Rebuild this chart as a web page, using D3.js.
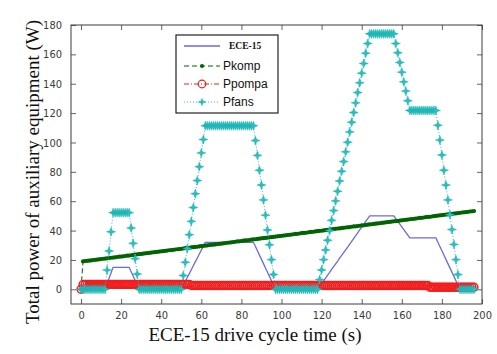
<!DOCTYPE html>
<html>
<head>
<meta charset="utf-8">
<script src="https://cdn.jsdelivr.net/npm/d3@7"></script>
<style>
  body { margin: 0; background: #fff; }
  svg { display: block; }
</style>
</head>
<body>
<svg id="chart" width="497" height="354"></svg>
<script>
// One sample per second, t = 0 … 196 s.
// ECE-15 vehicle speed (km/h), drawn on the same axis as the powers.
const speedECE = [
  0,0,0,0,0,0,0,0,0,0,0,0,0,
  3.75,7.5,11.25,15,
  15,15,15,15,15,15,15,15,
  12,9,6,3,0,
  0,0,0,0,0,0,0,0,0,0,0,0,0,0,0,0,0,0,0,0,0,
  2.7,5.3,8,10.7,13.3,16,18.7,21.3,24,26.7,29.3,32,
  32,32,32,32,32,32,32,32,32,32,32,32,32,32,32,32,32,32,32,32,32,32,32,32,
  29.1,26.2,23.3,20.4,17.5,14.5,11.6,8.7,5.8,2.9,0,
  0,0,0,0,0,0,0,0,0,0,0,0,0,0,0,0,0,0,0,0,0,
  1.9,3.8,5.8,7.7,9.6,11.5,13.5,15.4,17.3,19.2,21.2,23.1,25,26.9,28.8,30.8,32.7,34.6,36.5,38.5,40.4,42.3,44.2,46.2,48.1,50,
  50,50,50,50,50,50,50,50,50,50,50,50,
  48.1,46.3,44.4,42.5,40.6,38.8,36.9,35,
  35,35,35,35,35,35,35,35,35,35,35,35,35,
  32.1,29.2,26.3,23.3,20.4,17.5,14.6,11.7,8.8,5.8,2.9,0,
  0,0,0,0,0,0,0
];

// Compressor power (W)
const pKomp = [
  0,
  19.0,19.2,19.4,19.5,19.7,19.9,20.1,20.2,20.4,20.6,20.8,20.9,21.1,21.3,21.5,21.6,21.8,22.0,22.2,22.3,
  22.5,22.7,22.9,23.0,23.2,23.4,23.6,23.8,23.9,24.1,24.3,24.5,24.6,24.8,25.0,25.2,25.3,25.5,25.7,25.9,
  26.0,26.2,26.4,26.6,26.7,26.9,27.1,27.3,27.4,27.6,27.8,28.0,28.2,28.3,28.5,28.7,28.9,29.0,29.2,29.4,
  29.6,29.7,29.9,30.1,30.3,30.4,30.6,30.8,31.0,31.1,31.3,31.5,31.7,31.8,32.0,32.2,32.4,32.6,32.7,32.9,
  33.1,33.3,33.4,33.6,33.8,34.0,34.1,34.3,34.5,34.7,34.8,35.0,35.2,35.4,35.5,35.7,35.9,36.1,36.2,36.4,
  36.6,36.8,37.0,37.1,37.3,37.5,37.7,37.8,38.0,38.2,38.4,38.5,38.7,38.9,39.1,39.2,39.4,39.6,39.8,39.9,
  40.1,40.3,40.5,40.6,40.8,41.0,41.2,41.4,41.5,41.7,41.9,42.1,42.2,42.4,42.6,42.8,42.9,43.1,43.3,43.5,
  43.6,43.8,44.0,44.2,44.3,44.5,44.7,44.9,45.0,45.2,45.4,45.6,45.8,45.9,46.1,46.3,46.5,46.6,46.8,47.0,
  47.2,47.3,47.5,47.7,47.9,48.0,48.2,48.4,48.6,48.7,48.9,49.1,49.3,49.4,49.6,49.8,50.0,50.2,50.3,50.5,
  50.7,50.9,51.0,51.2,51.4,51.6,51.7,51.9,52.1,52.3,52.4,52.6,52.8,53.0,53.1,53.3
];

// Pump power (W)
const pPompa = [
  0,
  3.3,3.3,3.3,3.3,3.3,3.3,3.3,3.3,3.3,3.3,3.3,3.3,3.3,3.3,3.3,3.3,3.3,3.3,3.3,3.3,
  3.3,3.3,3.3,3.3,3.3,3.3,3.3,3.3,3.3,3.3,3.3,3.3,3.3,3.3,3.3,3.3,3.3,3.3,3.3,3.3,
  3.3,3.3,3.3,3.3,3.3,3.3,3.3,3.3,3.3,3.3,3.3,3.3,3.3,3.3,
  2.6,2.6,2.6,2.6,2.6,2.6,2.6,2.6,2.6,2.6,2.6,2.6,2.6,2.6,2.6,2.6,2.6,2.6,2.6,2.6,
  2.6,2.6,2.6,2.6,2.6,2.6,2.6,2.6,2.6,2.6,2.6,2.6,2.6,2.6,2.6,2.6,2.6,2.6,2.6,2.6,
  2.6,2.6,2.6,2.6,2.6,2.6,2.6,2.6,2.6,2.6,2.6,2.6,2.6,2.6,2.6,2.6,2.6,2.6,2.6,2.6,
  2.6,2.6,2.6,2.6,2.6,2.6,2.6,2.6,2.6,2.6,2.6,2.6,2.6,2.6,2.6,2.6,2.6,2.6,2.6,2.6,
  2.6,2.6,2.6,2.6,2.6,2.6,2.6,2.6,2.6,2.6,2.6,2.6,2.6,2.6,2.6,2.6,2.6,2.6,2.6,2.6,
  2.6,2.6,2.6,2.6,2.6,2.6,2.6,2.6,2.6,2.6,2.6,2.6,2.6,2.6,2.6,2.6,2.6,2.6,2.6,
  1.4,1.4,1.4,1.4,1.4,1.4,1.4,1.4,1.4,1.4,1.4,1.4,1.4,1.4,1.4,1.4,1.4,1.4,1.4,1.4,
  1.4,1.4,1.4
];

// Fan power (W)
const pFans = [
  0,0,0,0,0,0,0,0,0,0,0,0,0,
  13.1,26.1,39.2,52.2,
  52.2,52.2,52.2,52.2,52.2,52.2,52.2,52.2,
  41.8,31.3,20.9,10.4,0,
  0,0,0,0,0,0,0,0,0,0,0,0,0,0,0,0,0,0,0,0,0,
  9.4,18.4,27.8,37.2,46.3,55.7,65.1,74.1,83.5,92.9,102.0,111.4,
  111.4,111.4,111.4,111.4,111.4,111.4,111.4,111.4,111.4,111.4,111.4,111.4,
  111.4,111.4,111.4,111.4,111.4,111.4,111.4,111.4,111.4,111.4,111.4,111.4,
  101.3,91.2,81.1,71.0,60.9,50.5,40.4,30.3,20.2,10.1,0,
  0,0,0,0,0,0,0,0,0,0,0,0,0,0,0,0,0,0,0,0,0,
  6.6,13.2,20.2,26.8,33.4,40.0,47.0,53.6,60.2,66.8,73.8,80.4,87.0,93.6,100.2,107.2,113.8,120.4,127.0,134.0,140.6,147.2,153.8,160.8,167.4,174.0,
  174,174,174,174,174,174,174,174,174,174,174,174,
  167.4,161.1,154.5,147.9,141.3,135.0,128.4,121.8,
  121.8,121.8,121.8,121.8,121.8,121.8,121.8,121.8,121.8,121.8,121.8,121.8,121.8,
  111.7,101.6,91.5,81.1,71.0,60.9,50.8,40.7,30.6,20.2,10.1,0,
  0,0,0,0,0,0,0
];

const seriesNames = ["ECE-15", "Pkomp", "Ppompa", "Pfans"];
const xTicks = [0, 20, 40, 60, 80, 100, 120, 140, 160, 180, 200];
const yTicks = [0, 20, 40, 60, 80, 100, 120, 140, 160, 180];
const xTitle = "ECE-15 drive cycle time (s)";
const yTitle = "Total power of auxiliary equipment (W)";

const time = d3.range(speedECE.length); // seconds

const svg = d3.select("#chart");
const plot = { left: 71, right: 482, top: 25, bottom: 304 };

const x = d3.scaleLinear().domain([-5, 200]).range([plot.left, plot.right]);
const y = d3.scaleLinear().domain([-10, 180]).range([plot.bottom, plot.top]);

const tickFont = "'Liberation Sans Narrow','Arial Narrow','DejaVu Sans Condensed',sans-serif";
const axisColor = "#3c3c3c";

function styleAxis(g) {
  g.select(".domain").remove();
  g.selectAll(".tick line").attr("stroke", axisColor).attr("stroke-width", 0.8);
  g.selectAll(".tick text")
    .attr("fill", "#3a3a3a")
    .style("font-family", tickFont)
    .style("font-size", "11px");
}

// axes with inward ticks on all four sides
svg.append("g").attr("transform", `translate(0,${plot.bottom})`)
  .call(d3.axisBottom(x).tickValues(xTicks).tickSizeInner(-5).tickSizeOuter(0).tickPadding(7))
  .call(styleAxis);
svg.append("g").attr("transform", `translate(0,${plot.top})`)
  .call(d3.axisTop(x).tickValues(xTicks).tickSizeInner(-5).tickSizeOuter(0).tickFormat(""))
  .call(styleAxis);
svg.append("g").attr("transform", `translate(${plot.left},0)`)
  .call(d3.axisLeft(y).tickValues(yTicks).tickSizeInner(-5).tickSizeOuter(0).tickPadding(9))
  .call(styleAxis);
svg.append("g").attr("transform", `translate(${plot.right},0)`)
  .call(d3.axisRight(y).tickValues(yTicks).tickSizeInner(-5).tickSizeOuter(0).tickFormat(""))
  .call(styleAxis);

svg.append("rect")
  .attr("x", plot.left).attr("y", plot.top)
  .attr("width", plot.right - plot.left).attr("height", plot.bottom - plot.top)
  .attr("fill", "none").attr("stroke", axisColor).attr("stroke-width", 1);

// four-pointed star used for the fan markers
function starPath(ro, ri) {
  const pts = [];
  for (let k = 0; k < 8; k++) {
    const a = -Math.PI / 2 + k * Math.PI / 4;
    const r = k % 2 === 0 ? ro : ri;
    pts.push([r * Math.cos(a), r * Math.sin(a)]);
  }
  return "M" + pts.map(p => p[0].toFixed(2) + "," + p[1].toFixed(2)).join("L") + "Z";
}
const star = starPath(4.6, 1.7);

const colors = {
  speed: "#6a6ae0",
  komp: "#006400",
  pompa: "#f21d1d",
  fans: "#26c0c0"
};

const lineGen = vals => d3.line().x((d, i) => x(time[i])).y(d => y(d))(vals);

const marks = svg.append("g");

// ECE-15 speed
marks.append("path").attr("d", lineGen(speedECE))
  .attr("fill", "none").attr("stroke", colors.speed).attr("stroke-width", 1.3);

// Pkomp: dashed with point markers
marks.append("path").attr("d", lineGen(pKomp))
  .attr("fill", "none").attr("stroke", colors.komp).attr("stroke-width", 1)
  .attr("stroke-dasharray", "5,3");
marks.append("g").selectAll("circle").data(pKomp).join("circle")
  .attr("cx", (d, i) => x(time[i])).attr("cy", d => y(d)).attr("r", 2.1)
  .attr("fill", colors.komp);

// Ppompa: dash-dot with open circles
marks.append("path").attr("d", lineGen(pPompa))
  .attr("fill", "none").attr("stroke", colors.pompa).attr("stroke-width", 1)
  .attr("stroke-dasharray", "5,2,1,2");
marks.append("g").selectAll("circle").data(pPompa).join("circle")
  .attr("cx", (d, i) => x(time[i])).attr("cy", d => y(d)).attr("r", 3.9)
  .attr("fill", "none").attr("stroke", colors.pompa).attr("stroke-width", 1.5);

// Pfans: dotted with star markers
marks.append("path").attr("d", lineGen(pFans))
  .attr("fill", "none").attr("stroke", colors.fans).attr("stroke-width", 1)
  .attr("stroke-dasharray", "1,2");
marks.append("g").selectAll("path").data(pFans).join("path")
  .attr("transform", (d, i) => `translate(${x(time[i])},${y(d)})`)
  .attr("d", star).attr("fill", colors.fans).attr("stroke", "#1aa8a8").attr("stroke-width", 0.4);

// legend
const leg = svg.append("g");
leg.append("rect").attr("x", 176).attr("y", 35).attr("width", 102).attr("height", 78)
  .attr("fill", "#fff").attr("stroke", "#222").attr("stroke-width", 1.2);
const legRows = [
  { name: seriesNames[0], y: 46, color: colors.speed, dash: null, marker: null, serif: true },
  { name: seriesNames[1], y: 66, color: colors.komp, dash: "5,3", marker: "dot" },
  { name: seriesNames[2], y: 84, color: colors.pompa, dash: "5,2,1,2", marker: "circle" },
  { name: seriesNames[3], y: 102, color: colors.fans, dash: "1,2", marker: "star" }
];
legRows.forEach(r => {
  leg.append("line").attr("x1", 184).attr("x2", 220).attr("y1", r.y).attr("y2", r.y)
    .attr("stroke", r.color).attr("stroke-width", r.marker ? 1 : 1.4)
    .attr("stroke-dasharray", r.dash);
  if (r.marker === "dot") {
    leg.append("circle").attr("cx", 202).attr("cy", r.y).attr("r", 2).attr("fill", r.color);
  } else if (r.marker === "circle") {
    leg.append("circle").attr("cx", 202).attr("cy", r.y).attr("r", 3.8)
      .attr("fill", "none").attr("stroke", r.color).attr("stroke-width", 1.2);
  } else if (r.marker === "star") {
    leg.append("path").attr("transform", `translate(202,${r.y})`).attr("d", star)
      .attr("fill", r.color);
  }
  leg.append("text")
    .attr("x", r.serif ? 229 : 223).attr("y", r.y).attr("dy", "0.35em")
    .attr("fill", "#111")
    .style("font-family", r.serif ? "'Liberation Serif','Times New Roman',serif" : "'Liberation Sans',Arial,sans-serif")
    .style("font-weight", r.serif ? "bold" : "normal")
    .style("font-size", r.serif ? "9.5px" : "12px")
    .text(r.name);
});

// axis titles
svg.append("text")
  .attr("x", 255).attr("y", 341).attr("text-anchor", "middle")
  .attr("fill", "#111")
  .style("font-family", "'Liberation Serif','Times New Roman',serif")
  .style("font-size", "19px")
  .text(xTitle);
svg.append("text")
  .attr("transform", "translate(39,172) rotate(-90)").attr("text-anchor", "middle")
  .attr("fill", "#111")
  .style("font-family", "'Liberation Serif','Times New Roman',serif")
  .style("font-size", "19px")
  .text(yTitle);
</script>
</body>
</html>
